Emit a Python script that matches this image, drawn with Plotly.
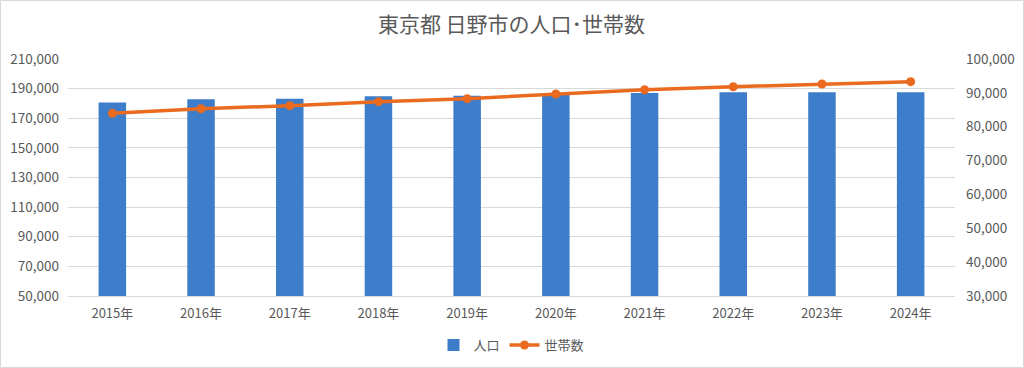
import plotly.graph_objects as go

years = ["2015年", "2016年", "2017年", "2018年", "2019年", "2020年", "2021年", "2022年", "2023年", "2024年"]
population = [180700, 182800, 183200, 184800, 185200, 186500, 187000, 187500, 187500, 187500]
households = [83960, 85320, 86210, 87390, 88280, 89660, 90930, 91820, 92620, 93300]

left_ticks = list(range(50000, 210001, 20000))
right_ticks = list(range(30000, 100001, 10000))

FONT = "Noto Sans CJK JP"
GREY = "#595959"

fig = go.Figure()
fig.add_trace(go.Bar(x=years, y=population, name="人口", marker=dict(color="#3D7DCA"), yaxis="y"))
fig.add_trace(go.Scatter(x=years, y=households, name="世帯数", mode="lines+markers",
                         line=dict(color="#EA6B1F", width=3.5),
                         marker=dict(color="#EA6B1F", size=9), yaxis="y2"))

L, R, T, B = 68, 69, 59, 72
W, H = 1024, 368
pw, ph = W - L - R, H - T - B

fig.update_layout(
    template="none",
    width=W, height=H,
    margin=dict(l=L, r=R, t=T, b=B, autoexpand=False),
    paper_bgcolor="white", plot_bgcolor="white",
    font=dict(family=FONT, color=GREY, size=13),
    title=dict(text="東京都 日野市の人口･世帯数", x=0.5, xanchor="center", xref="paper",
               y=1 - 25 / H, yanchor="middle", yref="container",
               font=dict(size=21, color=GREY, family=FONT)),
    bargap=0.69,
    showlegend=True,
    legend=dict(orientation="h", x=0.5, xanchor="center", xref="paper",
                y=1 - 345 / H, yanchor="middle", yref="container",
                font=dict(size=13, color=GREY), traceorder="normal", bgcolor="rgba(0,0,0,0)",
                itemwidth=30),
    xaxis=dict(range=[-0.5, len(years) - 0.5], showgrid=False, showline=True, linecolor="#D9D9D9",
               linewidth=1, ticks="", automargin=False, ticklabelstandoff=5,
               tickfont=dict(size=13, color=GREY)),
    yaxis=dict(range=[50000, 210000], tickvals=left_ticks, tickformat=",", showgrid=True,
               gridcolor="#D9D9D9", gridwidth=1, zeroline=False, showline=False, ticks="",
               automargin=False, ticklabelstandoff=8,
               tickfont=dict(size=13.5, color=GREY)),
    yaxis2=dict(range=[30000, 100000], tickvals=right_ticks, tickformat=",", overlaying="y", side="right",
                showgrid=False, zeroline=False, showline=False, ticks="",
                automargin=False, ticklabelstandoff=10,
                tickfont=dict(size=13.5, color=GREY)),
    shapes=[dict(type="rect", xref="paper", yref="paper",
                 x0=(-L + 0.5) / pw, x1=(pw + R - 0.5) / pw,
                 y0=(-B + 0.5) / ph, y1=(ph + T - 0.5) / ph,
                 line=dict(color="#D9D9D9", width=1), fillcolor="rgba(0,0,0,0)", layer="below")],
)

fig.write_html("out.html", config={"displayModeBar": False},
               post_script="document.body.style.margin='0';document.body.style.overflow='hidden';")
